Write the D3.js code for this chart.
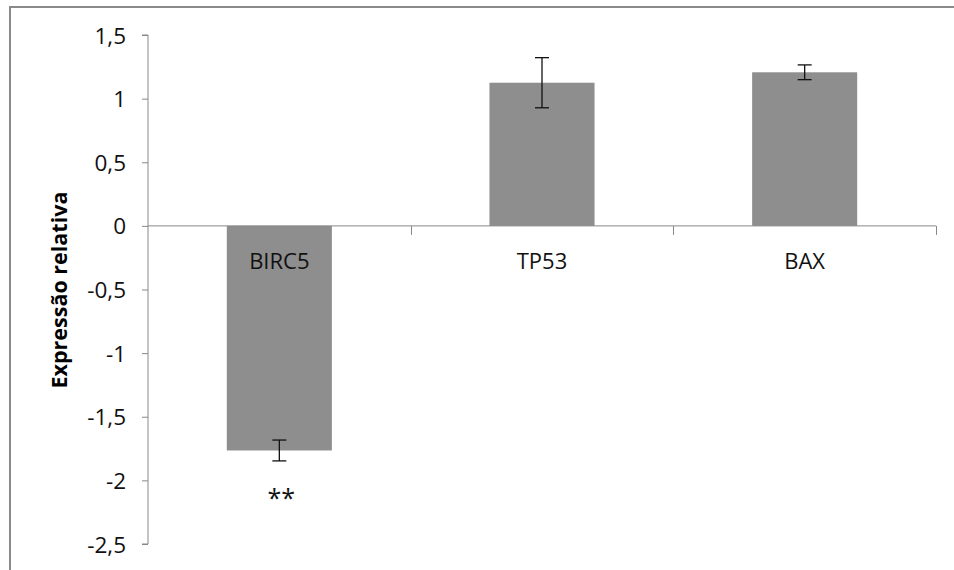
<!DOCTYPE html>
<html>
<head>
<meta charset="utf-8">
<script src="https://cdn.jsdelivr.net/npm/d3@7"></script>
<style>
  body { margin: 0; background: #fff; }
  text { font-family: "Open Sans", sans-serif; }
</style>
</head>
<body>
<script>
(function(){
    // chart values
    var genes = ["BIRC5", "TP53", "BAX"];
    var values = [-1.765, 1.125, 1.207];
    var errors = [0.082, 0.197, 0.058];
    var marks = ["**", "", ""];
    var yTicks = [1.5, 1, 0.5, 0, -0.5, -1, -1.5, -2, -2.5];

    var width = 954,
        height = 570;

    var svg = d3.select("body")
        .append("svg")
        .attr("width", width)
        .attr("height", height);

    // outer chart frame (only left and top edges are visible in the crop)
    svg.append("path")
        .attr("d", "M10,570 V7 H954")
        .attr("fill", "none")
        .attr("stroke", "#8a8a8a")
        .attr("stroke-width", 2);

    var y = d3.scaleLinear()
        .domain([-2.5, 1.5])
        .range([544, 35]);

    var x = d3.scaleBand()
        .domain(genes)
        .range([148, 936])
        .paddingInner(0.6)
        .paddingOuter(0.3);

    // bars
    svg.selectAll(".bar")
        .data(genes)
        .enter()
        .append("rect")
        .attr("class", "bar")
        .attr("x", function(d){ return x(d); })
        .attr("width", x.bandwidth())
        .attr("y", function(d, i){ return y(Math.max(0, values[i])); })
        .attr("height", function(d, i){ return Math.abs(y(values[i]) - y(0)); })
        .attr("fill", "#8e8e8e");

    // y axis
    var yAxis = d3.axisLeft(y)
        .tickValues(yTicks)
        .tickSize(6)
        .tickPadding(16)
        .tickFormat(function(d){ return String(d).replace(".", ","); });

    var gy = svg.append("g")
        .attr("transform", "translate(148,0)")
        .call(yAxis);
    gy.select(".domain").attr("stroke", "#888").attr("d", "M-6," + y(1.5) + "H0V" + y(-2.5) + "H-6");
    gy.selectAll(".tick line").attr("stroke", "#888");
    gy.selectAll(".tick text")
        .attr("fill", "#111")
        .style("font-size", "22.5px")
        .style("font-family", "'Open Sans', sans-serif")
        .attr("dy", "0.36em");

    // x axis at zero with ticks between categories
    var step = x.step(),
        gap = step - x.bandwidth();
    svg.append("line")
        .attr("x1", 148).attr("x2", 936)
        .attr("y1", y(0)).attr("y2", y(0))
        .attr("stroke", "#888");
    svg.selectAll(".xtick")
        .data(genes)
        .enter()
        .append("line")
        .attr("class", "xtick")
        .attr("x1", function(d){ return Math.round(x(d) + x.bandwidth() + gap / 2) + 0.5; })
        .attr("x2", function(d){ return Math.round(x(d) + x.bandwidth() + gap / 2) + 0.5; })
        .attr("y1", y(0))
        .attr("y2", y(0) + 9)
        .attr("stroke", "#888");

    // category labels
    svg.selectAll(".cat")
        .data(genes)
        .enter()
        .append("text")
        .attr("class", "cat")
        .attr("x", function(d){ return x(d) + x.bandwidth() / 2; })
        .attr("y", y(0) + 43)
        .attr("text-anchor", "middle")
        .attr("fill", "#111")
        .style("font-size", "22px")
        .text(function(d){ return d; });

    // error bars
    var eb = svg.selectAll(".err")
        .data(genes)
        .enter()
        .append("g")
        .attr("class", "err")
        .attr("stroke", "#111")
        .attr("stroke-width", 1.3);
    eb.append("line")
        .attr("x1", function(d){ return x(d) + x.bandwidth() / 2; })
        .attr("x2", function(d){ return x(d) + x.bandwidth() / 2; })
        .attr("y1", function(d, i){ return y(values[i] + errors[i]); })
        .attr("y2", function(d, i){ return y(values[i] - errors[i]); });
    [1, -1].forEach(function(s){
        eb.append("line")
            .attr("x1", function(d){ return x(d) + x.bandwidth() / 2 - 7; })
            .attr("x2", function(d){ return x(d) + x.bandwidth() / 2 + 7; })
            .attr("y1", function(d, i){ return y(values[i] + s * errors[i]); })
            .attr("y2", function(d, i){ return y(values[i] + s * errors[i]); });
    });

    // significance marks
    svg.selectAll(".sig")
        .data(genes)
        .enter()
        .append("text")
        .attr("class", "sig")
        .attr("x", function(d){ return x(d) + x.bandwidth() / 2 + 2; })
        .attr("y", function(d, i){ return y(values[i] - errors[i]) + 46; })
        .attr("text-anchor", "middle")
        .attr("fill", "#111")
        .style("font-size", "25px")
        .text(function(d, i){ return marks[i]; });

    // y axis title
    svg.append("text")
        .attr("transform", "translate(67,290) rotate(-90)")
        .attr("text-anchor", "middle")
        .attr("fill", "#000")
        .style("font-size", "21.5px")
        .style("font-weight", "bold")
        .text("Expressão relativa");
})();
</script>
</body>
</html>
